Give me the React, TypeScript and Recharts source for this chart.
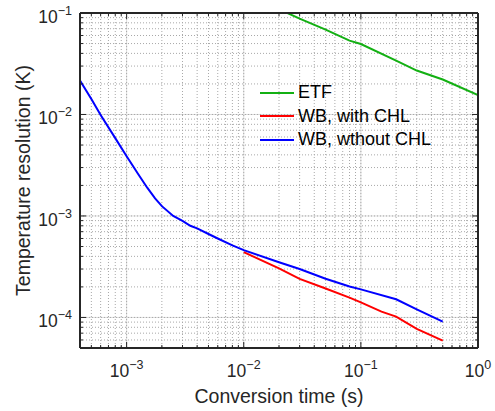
import { LineChart, Line, XAxis, YAxis, CartesianGrid, Legend } from 'recharts';

// conversion time (s) / temperature resolution (K)
const ETF_T = [0.02, 0.03, 0.05, 0.08, 0.1, 0.2, 0.3, 0.5, 1];
const ETF_R = [0.109, 0.088, 0.0686, 0.0534, 0.0495, 0.0339, 0.0271, 0.0221, 0.0155];

const CHL_T = [0.01, 0.02, 0.03, 0.05, 0.08, 0.1, 0.15, 0.2, 0.3, 0.5];
const CHL_R = [4.4e-4, 3.05e-4, 2.4e-4, 1.93e-4, 1.57e-4, 1.41e-4, 1.14e-4, 1.02e-4, 7.7e-5, 5.9e-5];

const NOCHL_T = [
  4e-4, 5e-4, 6e-4, 8e-4, 1e-3, 1.25e-3, 1.5e-3, 1.75e-3, 2e-3, 2.5e-3, 3e-3, 3.5e-3, 4e-3, 5e-3, 6e-3, 8e-3,
  0.01, 0.02, 0.03, 0.05, 0.08, 0.1, 0.2, 0.3, 0.5,
];
const NOCHL_R = [
  0.0216, 0.0142, 0.0099, 0.00585, 0.00387, 0.00261, 0.0019, 0.00149, 0.00125, 0.001, 8.95e-4, 8.0e-4, 7.55e-4, 6.64e-4, 6.0e-4, 5.14e-4,
  4.6e-4, 3.5e-4, 3.0e-4, 2.41e-4, 2.02e-4, 1.89e-4, 1.51e-4, 1.2e-4, 9.1e-5,
];

const X_DOMAIN = [4e-4, 1];
const Y_DOMAIN = [5e-5, 0.1];
const X_MAJOR = [1e-3, 1e-2, 1e-1, 1];
const Y_MAJOR = [1e-4, 1e-3, 1e-2, 1e-1];
const X_TICKS = [
  5e-4, 6e-4, 7e-4, 8e-4, 9e-4, 1e-3,
  2e-3, 3e-3, 4e-3, 5e-3, 6e-3, 7e-3, 8e-3, 9e-3, 1e-2,
  2e-2, 3e-2, 4e-2, 5e-2, 6e-2, 7e-2, 8e-2, 9e-2, 1e-1,
  2e-1, 3e-1, 4e-1, 5e-1, 6e-1, 7e-1, 8e-1, 9e-1, 1,
];
const Y_TICKS = [
  6e-5, 7e-5, 8e-5, 9e-5, 1e-4,
  2e-4, 3e-4, 4e-4, 5e-4, 6e-4, 7e-4, 8e-4, 9e-4, 1e-3,
  2e-3, 3e-3, 4e-3, 5e-3, 6e-3, 7e-3, 8e-3, 9e-3, 1e-2,
  2e-2, 3e-2, 4e-2, 5e-2, 6e-2, 7e-2, 8e-2, 9e-2, 1e-1,
];

const toPoints = (t: number[], r: number[]) => t.map((v, i) => ({ t: v, r: r[i] }));
const etfData = toPoints(ETF_T, ETF_R);
const chlData = toPoints(CHL_T, CHL_R);
const noChlData = toPoints(NOCHL_T, NOCHL_R);

const FONT = '"Liberation Sans", Arial, Helvetica, sans-serif';
const INK = '#262626';
const TICK_FS = 17.5;
const EXP_FS = 12.5;
const LABEL_FS = 19.5;

const isMajor = (v: number) => Math.abs(Math.log10(v) - Math.round(Math.log10(v))) < 1e-6;
const expText = (v: number) => {
  const e = Math.round(Math.log10(v));
  return e < 0 ? `\u2212${-e}` : `${e}`;
};

function BottomTick({ x, y, payload }: any) {
  const major = isMajor(payload.value);
  return (
    <g>
      <line x1={x} x2={x} y1={y} y2={y - (major ? 6 : 3)} stroke={INK} />
      {major && (
        <text x={x} y={y + 29} textAnchor="middle" fill={INK} fontSize={TICK_FS}>
          10<tspan dy={-8} fontSize={EXP_FS}>{expText(payload.value)}</tspan>
        </text>
      )}
    </g>
  );
}

function TopTick({ x, y, payload }: any) {
  const major = isMajor(payload.value);
  return <line x1={x} x2={x} y1={y} y2={y + (major ? 6 : 3)} stroke={INK} />;
}

function LeftTick({ x, y, payload }: any) {
  const major = isMajor(payload.value);
  return (
    <g>
      <line x1={x} x2={x + (major ? 6 : 3)} y1={y} y2={y} stroke={INK} />
      {major && (
        <text x={x - 8} y={y + 10} textAnchor="end" fill={INK} fontSize={TICK_FS}>
          10<tspan dy={-8} fontSize={EXP_FS}>{expText(payload.value)}</tspan>
        </text>
      )}
    </g>
  );
}

function RightTick({ x, y, payload }: any) {
  const major = isMajor(payload.value);
  return <line x1={x} x2={x - (major ? 6 : 3)} y1={y} y2={y} stroke={INK} />;
}

function LegendBox({ payload }: any) {
  return (
    <div style={{ fontFamily: FONT, fontSize: 18, color: '#000' }}>
      {(payload || []).map((p: any) => (
        <div key={p.value} style={{ display: 'flex', alignItems: 'center', height: 23.5 }}>
          <span style={{ display: 'inline-block', width: 34, borderTop: `2px solid ${p.color}`, marginRight: 4 }} />
          <span>{p.value}</span>
        </div>
      ))}
    </div>
  );
}

const axisLine = { stroke: INK, strokeWidth: 2 };

export default function App() {
  return (
    <div style={{ position: 'absolute', left: 0, top: 0, fontFamily: FONT, background: '#fff' }}>
      <LineChart width={495} height={411} margin={{ top: 12, right: 16, bottom: 0, left: 0 }}>
        <XAxis xAxisId="maj" type="number" dataKey="t" scale="log" domain={X_DOMAIN} allowDataOverflow ticks={X_MAJOR} hide />
        <YAxis yAxisId="maj" type="number" dataKey="r" scale="log" domain={Y_DOMAIN} allowDataOverflow ticks={Y_MAJOR} hide />
        <CartesianGrid xAxisId="maj" yAxisId="maj" stroke="#dcdcdc" strokeWidth={1} />
        <CartesianGrid stroke="#a8a8a8" strokeDasharray="1 2" strokeWidth={1} />

        <XAxis
          type="number"
          dataKey="t"
          scale="log"
          domain={X_DOMAIN}
          allowDataOverflow
          ticks={X_TICKS}
          interval={0}
          tickSize={0}
          tickMargin={0}
          tickLine={false}
          tick={<BottomTick />}
          axisLine={axisLine}
          height={63}
          label={{ value: 'Conversion time (s)', position: 'insideBottom', offset: 8, fill: INK, fontSize: LABEL_FS }}
        />
        <XAxis
          xAxisId="top"
          orientation="top"
          type="number"
          dataKey="t"
          scale="log"
          domain={X_DOMAIN}
          allowDataOverflow
          ticks={X_TICKS}
          interval={0}
          tickSize={0}
          tickMargin={0}
          tickLine={false}
          tick={<TopTick />}
          axisLine={axisLine}
          height={1}
        />
        <YAxis
          type="number"
          dataKey="r"
          scale="log"
          domain={Y_DOMAIN}
          allowDataOverflow
          ticks={Y_TICKS}
          interval={0}
          tickSize={0}
          tickMargin={0}
          tickLine={false}
          tick={<LeftTick />}
          axisLine={axisLine}
          width={80}
          label={{
            content: ({ viewBox }: any) => (
              <text
                transform={`translate(${viewBox.x + 30}, ${viewBox.y + viewBox.height / 2}) rotate(-90)`}
                textAnchor="middle"
                fill={INK}
                fontSize={LABEL_FS}
              >
                Temperature resolution (K)
              </text>
            ),
          }}
        />
        <YAxis
          yAxisId="right"
          orientation="right"
          type="number"
          dataKey="r"
          scale="log"
          domain={Y_DOMAIN}
          allowDataOverflow
          ticks={Y_TICKS}
          interval={0}
          tickSize={0}
          tickMargin={0}
          tickLine={false}
          tick={<RightTick />}
          axisLine={axisLine}
          width={1}
        />

        <Line data={etfData} dataKey="r" name="ETF" type="linear" stroke="#13b013" strokeWidth={2} dot={false} isAnimationActive={false} />
        <Line data={chlData} dataKey="r" name="WB, with CHL" type="linear" stroke="#ff0000" strokeWidth={2} dot={false} isAnimationActive={false} />
        <Line data={noChlData} dataKey="r" name="WB, wthout CHL" type="linear" stroke="#0000ff" strokeWidth={2} dot={false} isAnimationActive={false} />

        <Legend
          content={<LegendBox />}
          layout="vertical"
          align="center"
          verticalAlign="middle"
          wrapperStyle={{ left: 260, top: 81, width: 'auto' }}
        />
      </LineChart>
    </div>
  );
}
